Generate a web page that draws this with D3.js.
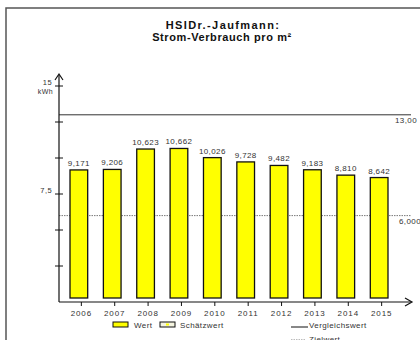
<!DOCTYPE html>
<html>
<head>
<meta charset="utf-8">
<script src="https://cdn.jsdelivr.net/npm/d3@7"></script>
<style>
body { margin: 0; background: #fff; }
text { font-family: "Liberation Sans", Arial, sans-serif; fill: #333; }
.title { font-weight: bold; font-size: 11px; fill: #111; }
.lbl { font-size: 8px; letter-spacing: 0.4px; }
</style>
</head>
<body>
<script>
var years = ["2006", "2007", "2008", "2009", "2010", "2011", "2012", "2013", "2014", "2015"];
var values = [9.171, 9.206, 10.623, 10.662, 10.026, 9.728, 9.482, 9.183, 8.810, 8.642];
var vergleichswert = 13.0;
var zielwert = 6.0;
var yTicks = [2.5, 5, 7.5, 10, 12.5, 15];
var yLabels = {15: "15", 7.5: "7,5"};

var fmt = function (v) { return d3.format(".3f")(v).replace(".", ","); };
var fmt2 = function (v) { return d3.format(".2f")(v).replace(".", ","); };

var svg = d3.select("body").append("svg")
    .attr("width", 420)
    .attr("height", 340);

// frame
svg.append("rect")
    .attr("x", 6).attr("y", 8)
    .attr("width", 430).attr("height", 350)
    .style("fill", "none").style("stroke", "#555").style("stroke-width", 1.5);

// title
svg.append("text").attr("class", "title")
    .attr("x", 223).attr("y", 29).attr("text-anchor", "middle")
    .style("letter-spacing", "1.4px")
    .text("HSIDr.-Jaufmann:");
svg.append("text").attr("class", "title")
    .attr("x", 222).attr("y", 41).attr("text-anchor", "middle")
    .style("letter-spacing", "0.6px")
    .text("Strom-Verbrauch pro m²");

var x = d3.scaleBand().domain(years).range([62, 396]).paddingInner(0.47).paddingOuter(0.24);
var y = d3.scaleLinear().domain([0, 15]).range([302, 86]);

// reference lines
svg.append("line")
    .attr("x1", 59).attr("x2", 411)
    .attr("y1", y(vergleichswert)).attr("y2", y(vergleichswert))
    .style("stroke", "#333").style("stroke-width", 1);
svg.append("text").attr("class", "lbl")
    .attr("x", 395).attr("y", y(vergleichswert) + 8)
    .text(fmt2(vergleichswert));

svg.append("line")
    .attr("x1", 59).attr("x2", 411)
    .attr("y1", y(zielwert)).attr("y2", y(zielwert))
    .style("stroke", "#555").style("stroke-width", 0.8)
    .style("stroke-dasharray", "1.5,1");
svg.append("text").attr("class", "lbl")
    .attr("x", 399).attr("y", y(zielwert) + 8)
    .text(fmt2(zielwert) + "0");

// bars
svg.selectAll(".bar")
    .data(values)
    .enter().append("rect")
    .attr("class", "bar")
    .attr("x", function (d, i) { return x(years[i]); })
    .attr("width", x.bandwidth())
    .attr("y", function (d) { return y(d); })
    .attr("height", function (d) { return y(0) - 4 - y(d); })
    .style("fill", "#ffff00")
    .style("stroke", "#111")
    .style("stroke-width", 1.3);

svg.selectAll(".val")
    .data(values)
    .enter().append("text")
    .attr("class", "lbl")
    .attr("x", function (d, i) { return x(years[i]) + x.bandwidth() / 2; })
    .attr("y", function (d) { return y(d) - 4; })
    .attr("text-anchor", "middle")
    .text(function (d) { return fmt(d); });

// y axis
svg.append("line")
    .attr("x1", 59).attr("x2", 59).attr("y1", 75).attr("y2", 302)
    .style("stroke", "#111").style("stroke-width", 1.2);
svg.append("path")
    .attr("d", "M55,80 L59,74 L63,80")
    .style("fill", "none").style("stroke", "#111").style("stroke-width", 1.2);
svg.selectAll(".ytick")
    .data(yTicks)
    .enter().append("line")
    .attr("x1", 55).attr("x2", 63)
    .attr("y1", function (d) { return y(d); })
    .attr("y2", function (d) { return y(d); })
    .style("stroke", "#111").style("stroke-width", 1);
svg.selectAll(".ylab")
    .data(yTicks.filter(function (d) { return yLabels[d]; }))
    .enter().append("text")
    .attr("class", "lbl")
    .attr("x", 52).attr("y", function (d) { return y(d) - 1; })
    .attr("text-anchor", "end")
    .style("font-size", "7.5px")
    .text(function (d) { return yLabels[d]; });
svg.append("text").attr("class", "lbl")
    .attr("x", 53).attr("y", 94).attr("text-anchor", "end")
    .style("font-size", "7px")
    .text("kWh");

// x axis
svg.append("line")
    .attr("x1", 59).attr("x2", 411).attr("y1", 302).attr("y2", 302)
    .style("stroke", "#111").style("stroke-width", 1.2);
svg.append("path")
    .attr("d", "M405,298 L412,302 L405,306")
    .style("fill", "none").style("stroke", "#111").style("stroke-width", 1.2);
svg.selectAll(".xtick")
    .data(years)
    .enter().append("line")
    .attr("x1", function (d) { return x(d) + x.bandwidth() / 2 + 2.5; })
    .attr("x2", function (d) { return x(d) + x.bandwidth() / 2 + 2.5; })
    .attr("y1", 302).attr("y2", 306)
    .style("stroke", "#111").style("stroke-width", 1);
svg.selectAll(".xlab")
    .data(years)
    .enter().append("text")
    .attr("class", "lbl")
    .attr("x", function (d) { return x(d) + x.bandwidth() / 2 + 2.5; })
    .attr("y", 316)
    .attr("text-anchor", "middle")
    .style("letter-spacing", "0.9px")
    .text(function (d) { return d; });

// legend
svg.append("rect").attr("x", 113).attr("y", 322).attr("width", 15).attr("height", 5)
    .style("fill", "#ffff00").style("stroke", "#111").style("stroke-width", 1);
svg.append("text").attr("class", "lbl").attr("x", 134).attr("y", 328).text("Wert");
svg.append("rect").attr("x", 160).attr("y", 322).attr("width", 15).attr("height", 5)
    .style("fill", "#f4f4e0").style("stroke", "#111").style("stroke-width", 1);
svg.append("rect").attr("x", 166).attr("y", 323.5).attr("width", 3).attr("height", 2)
    .style("fill", "#ffff00");
svg.append("text").attr("class", "lbl").attr("x", 180).attr("y", 328).text("Schätzwert");

svg.append("line").attr("x1", 291).attr("x2", 308).attr("y1", 327).attr("y2", 327)
    .style("stroke", "#111").style("stroke-width", 1);
svg.append("text").attr("class", "lbl").attr("x", 309).attr("y", 328).text("Vergleichswert");
svg.append("line").attr("x1", 291).attr("x2", 306).attr("y1", 340).attr("y2", 340)
    .style("stroke", "#555").style("stroke-width", 0.8).style("stroke-dasharray", "1.5,1");
svg.append("text").attr("class", "lbl").attr("x", 309).attr("y", 342).text("Zielwert");
</script>
</body>
</html>
